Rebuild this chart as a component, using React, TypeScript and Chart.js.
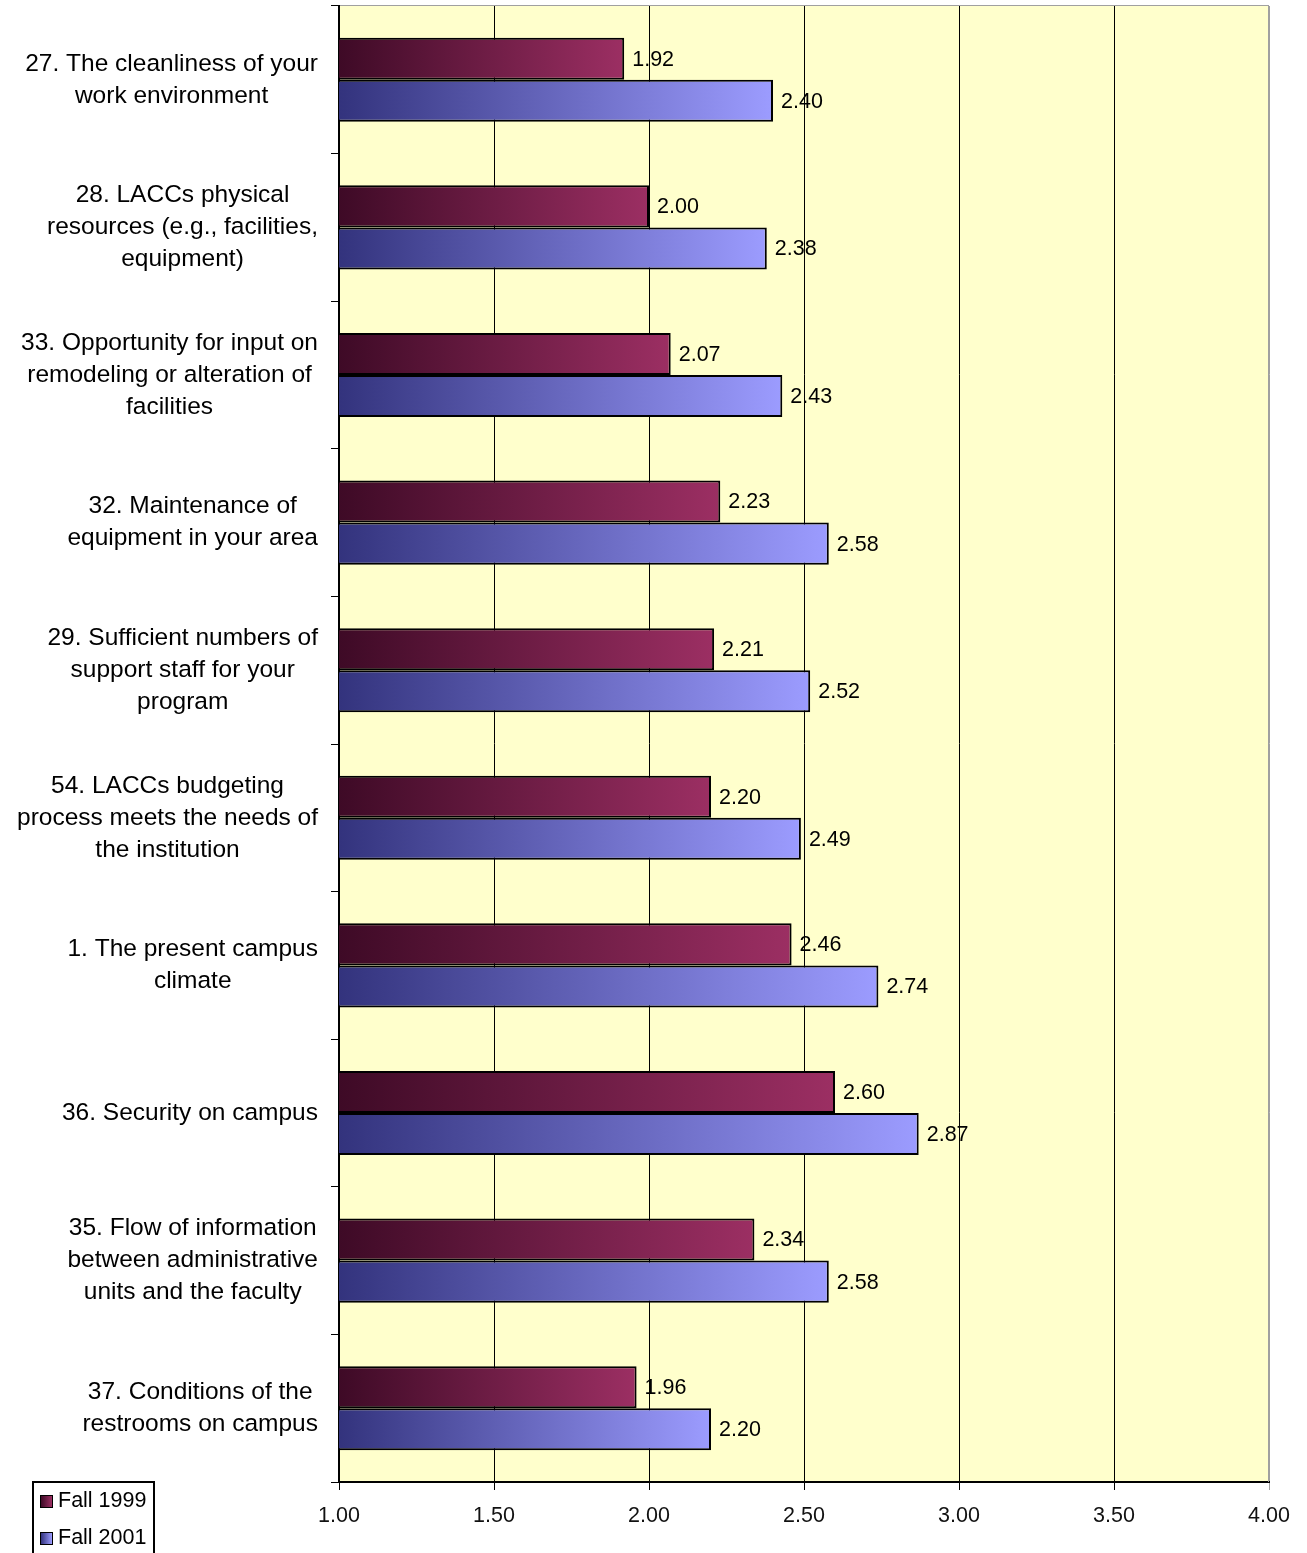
import React, { useEffect, useRef } from "react";
import { Chart, registerables } from "chart.js";

Chart.register(...registerables);

const categories: string[][] = [
  ["27. The cleanliness of your", "work environment"],
  ["28. LACCs physical", "resources (e.g., facilities,", "equipment)"],
  ["33. Opportunity for input on", "remodeling or alteration of", "facilities"],
  ["32. Maintenance of", "equipment in your area"],
  ["29. Sufficient numbers of", "support staff for your", "program"],
  ["54. LACCs budgeting", "process meets the needs of", "the institution"],
  ["1. The present campus", "climate"],
  ["36. Security on campus"],
  ["35. Flow of information", "between administrative", "units and the faculty"],
  ["37. Conditions of the", "restrooms on campus"],
];

const fall1999: number[] = [1.92, 2.0, 2.07, 2.23, 2.21, 2.2, 2.46, 2.6, 2.34, 1.96];
const fall2001: number[] = [2.4, 2.38, 2.43, 2.58, 2.52, 2.49, 2.74, 2.87, 2.58, 2.2];

const seriesNames: string[] = ["Fall 1999", "Fall 2001"];
const xTicks: number[] = [1.0, 1.5, 2.0, 2.5, 3.0, 3.5, 4.0];

const FONT = "'Liberation Sans', Arial, sans-serif";

const gradColors = [
  ["#3e0a26", "#9c2f63"],
  ["#33337d", "#9c9cff"],
];

function makeBg(dsIndex: number) {
  return (ctx: any) => {
    const chart = ctx.chart;
    const xs = chart.scales?.x;
    if (!xs || ctx.dataIndex === undefined) return gradColors[dsIndex][1];
    const v = ctx.raw as number;
    const x0 = xs.getPixelForValue(1);
    const x1 = xs.getPixelForValue(v);
    if (!isFinite(x0) || !isFinite(x1) || x1 <= x0) return gradColors[dsIndex][1];
    const g = chart.ctx.createLinearGradient(x0, 0, x1, 0);
    g.addColorStop(0, gradColors[dsIndex][0]);
    g.addColorStop(1, gradColors[dsIndex][1]);
    return g;
  };
}

const plotBgPlugin = {
  id: "plotBg",
  beforeDraw(chart: any) {
    const { ctx, chartArea } = chart;
    ctx.save();
    ctx.fillStyle = "#ffffcc";
    ctx.fillRect(chartArea.left, chartArea.top, chartArea.right - chartArea.left, chartArea.bottom - chartArea.top);
    ctx.strokeStyle = "#a0a0a0";
    ctx.lineWidth = 1;
    ctx.beginPath();
    ctx.moveTo(chartArea.left, chartArea.top - 0.5);
    ctx.lineTo(chartArea.right, chartArea.top - 0.5);
    ctx.stroke();
    ctx.restore();
  },
};

const labelsPlugin = {
  id: "customLabels",
  afterDraw(chart: any) {
    const { ctx, chartArea } = chart;
    const ys = chart.scales.y;
    ctx.save();
    // category labels
    ctx.font = `24.5px ${FONT}`;
    ctx.fillStyle = "#000";
    ctx.textAlign = "center";
    ctx.textBaseline = "middle";
    const lh = 32;
    const rightEdge = chartArea.left - 21;
    categories.forEach((lines, i) => {
      const cy = ys.getPixelForValue(i);
      const maxW = Math.max(...lines.map((l) => ctx.measureText(l).width));
      const cx = rightEdge - maxW / 2;
      const startY = cy - ((lines.length - 1) * lh) / 2;
      lines.forEach((l, j) => ctx.fillText(l, cx, startY + j * lh));
    });
    // data labels
    ctx.font = `21.5px ${FONT}`;
    ctx.textAlign = "left";
    chart.data.datasets.forEach((ds: any, di: number) => {
      const meta = chart.getDatasetMeta(di);
      meta.data.forEach((bar: any, i: number) => {
        const v = ds.data[i] as number;
        ctx.fillText(v.toFixed(2), bar.x + 8, bar.y + 1);
      });
    });
    // right border
    ctx.strokeStyle = "#a0a0a0";
    ctx.lineWidth = 1;
    ctx.beginPath();
    ctx.moveTo(chartArea.right - 0.5, chartArea.top);
    ctx.lineTo(chartArea.right - 0.5, chartArea.bottom);
    ctx.stroke();
    // legend
    const lx = 32, ly = 1481, lw = 121, lhgt = 80;
    ctx.strokeStyle = "#000";
    ctx.lineWidth = 2;
    ctx.strokeRect(lx + 1, ly + 1, lw, lhgt);
    ctx.font = `21.5px ${FONT}`;
    ctx.textBaseline = "middle";
    seriesNames.forEach((name, i) => {
      const yy = 1501 + i * 37;
      const g = ctx.createLinearGradient(41, 0, 52, 0);
      g.addColorStop(0, gradColors[i][0]);
      g.addColorStop(1, gradColors[i][1]);
      ctx.fillStyle = g;
      ctx.fillRect(41, yy - 5, 11, 11);
      ctx.lineWidth = 1;
      ctx.strokeRect(40.5, yy - 5.5, 12, 12);
      ctx.fillStyle = "#000";
      ctx.fillText(name, 58, yy);
    });
    ctx.restore();
  },
};

export default function App() {
  const ref = useRef<HTMLCanvasElement | null>(null);
  useEffect(() => {
    if (!ref.current) return;
    const chart = new Chart(ref.current, {
      type: "bar",
      data: {
        labels: categories.map((c) => c.join(" ")),
        datasets: [
          {
            label: seriesNames[0],
            data: fall1999,
            backgroundColor: makeBg(0),
            borderColor: "#000",
            borderWidth: 2,
            borderSkipped: false,
            barPercentage: 1.0,
            categoryPercentage: 0.57,
          },
          {
            label: seriesNames[1],
            data: fall2001,
            backgroundColor: makeBg(1),
            borderColor: "#000",
            borderWidth: 2,
            borderSkipped: false,
            barPercentage: 1.0,
            categoryPercentage: 0.57,
          },
        ],
      },
      options: {
        indexAxis: "y",
        responsive: false,
        animation: false,
        layout: { padding: { top: 6, right: 38, left: 0, bottom: 0 } },
        plugins: { legend: { display: false }, tooltip: { enabled: false } },
        scales: {
          x: {
            type: "linear",
            min: 1,
            max: 4,
            afterBuildTicks: (scale: any) => {
              scale.ticks = xTicks.map((v) => ({ value: v }));
            },
            afterFit: (scale: any) => {
              scale.height = 71;
            },
            ticks: {
              callback: (v: any) => Number(v).toFixed(2),
              font: { family: FONT, size: 21.5 },
              color: "#111",
              padding: 13,
              maxRotation: 0,
            },
            grid: {
              color: (c: any) => (c.index === xTicks.length - 1 ? "#a0a0a0" : "#000"),
              lineWidth: 1,
              tickLength: 8,
              drawTicks: true,
            },
            border: { display: true, color: "#000", width: 2 },
          },
          y: {
            type: "category",
            afterFit: (scale: any) => {
              scale.width = 339;
            },
            ticks: { display: false },
            grid: {
              offset: true,
              drawOnChartArea: false,
              drawTicks: true,
              tickLength: 8,
              color: "#000",
            },
            border: { display: true, color: "#000", width: 2 },
          },
        },
      },
      plugins: [plotBgPlugin, labelsPlugin],
    } as any);
    return () => chart.destroy();
  }, []);
  return (
    <div style={{ position: "absolute", left: 0, top: 0, width: 1307, height: 1553, background: "#fff" }}>
      <canvas ref={ref} width={1307} height={1553} style={{ display: "block" }} />
    </div>
  );
}
